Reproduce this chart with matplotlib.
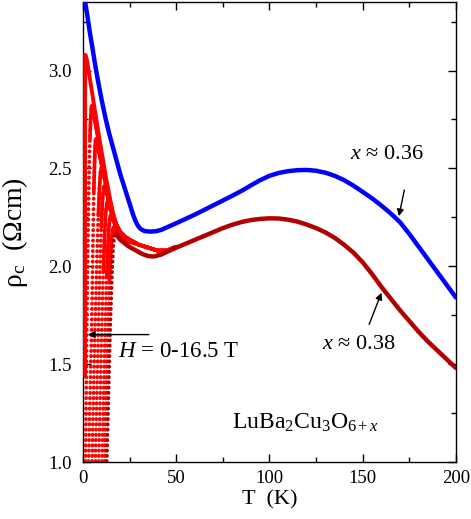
import numpy as np
import matplotlib
matplotlib.use('Agg')
import matplotlib.pyplot as plt
from matplotlib.ticker import MultipleLocator

plt.rcParams['font.family'] = ['Liberation Serif', 'DejaVu Serif']
plt.rcParams['mathtext.fontset'] = 'custom'
plt.rcParams['mathtext.rm'] = 'Liberation Serif'
plt.rcParams['mathtext.it'] = 'Liberation Serif:italic'

# x ~ 0.36 (blue)
T_036 = [1.0, 2.5, 3.75, 5.0, 6.5, 8.0, 10.0, 12.0, 14.0, 16.0, 18.0, 20.0, 22.0, 24.0, 26.0, 27.0,
         28.0, 29.0, 30.0, 31.0, 33.0, 36.0, 39.0, 42.0, 46.0, 50.0, 55.0, 60.0, 65.0, 70.0, 75.0,
         80.0, 85.0, 90.0, 95.0, 100.0, 105.0, 110.0, 115.0, 120.0, 125.0, 130.0, 135.0, 140.0,
         145.0, 150.0, 155.0, 160.0, 165.0, 170.0, 175.0, 180.0, 185.0, 190.0, 195.0, 200.0]
rho_036 = [3.36, 3.27, 3.19, 3.12, 3.03, 2.95, 2.85, 2.76, 2.68, 2.61, 2.54, 2.47, 2.41, 2.35, 2.29, 2.26,
           2.235, 2.215, 2.20, 2.19, 2.18, 2.177, 2.179, 2.186, 2.203, 2.22, 2.242, 2.264, 2.288, 2.312, 2.336,
           2.36, 2.385, 2.413, 2.44, 2.462, 2.477, 2.486, 2.491, 2.492, 2.488, 2.478, 2.462, 2.44,
           2.412, 2.38, 2.347, 2.31, 2.27, 2.225, 2.165, 2.10, 2.035, 1.97, 1.905, 1.84]

# x ~ 0.38, H = 0 (dark red), normal part
T_038 = [17.3, 18.0, 19.0, 20.0, 22.0, 24.0, 26.0, 28.0, 30.0, 32.0, 35.0, 38.0, 42.0, 46.0, 50.0,
         55.0, 60.0, 65.0, 70.0, 75.0, 80.0, 85.0, 90.0, 95.0, 100.0, 105.0, 110.0, 115.0, 120.0,
         125.0, 130.0, 135.0, 140.0, 145.0, 150.0, 155.0, 160.0, 165.0, 170.0, 175.0, 180.0, 185.0,
         190.0, 195.0, 200.0]
rho_038 = [2.165, 2.16, 2.147, 2.135, 2.12, 2.105, 2.093, 2.083, 2.072, 2.062, 2.052, 2.05, 2.06, 2.078, 2.095,
           2.115, 2.135, 2.155, 2.175, 2.195, 2.212, 2.226, 2.236, 2.242, 2.245, 2.244, 2.238, 2.228, 2.213,
           2.195, 2.173, 2.145, 2.11, 2.07, 2.02, 1.96, 1.895, 1.835, 1.775, 1.72, 1.665, 1.615,
           1.57, 1.525, 1.48]
# H = 0 superconducting drop
T_038_drop = [12.6, 13.6, 14.5, 15.5, 16.2, 16.8, 17.3]
rho_038_drop = [0.95, 1.32, 1.66, 1.95, 2.10, 2.15, 2.165]

# normal state of the highest field curve (outer edge of the red bundle)
T_env = [2.0, 3.0, 4.0, 5.0, 6.0, 7.0, 8.0, 9.0, 10.0, 11.0, 12.0, 13.0, 14.0, 15.0, 16.0, 17.0, 18.0,
         20.0, 22.0, 25.0, 30.0, 35.0, 40.0, 45.0, 50.0]
rho_env = [3.06, 3.0, 2.94, 2.88, 2.82, 2.76, 2.70, 2.64, 2.585, 2.53, 2.47, 2.42, 2.37, 2.32, 2.275, 2.24, 2.21,
           2.175, 2.155, 2.135, 2.11, 2.095, 2.08, 2.08, 2.10]

# in-field curves, H = 16.5 T ... low field (below ~17 K, then they join the outer curve)
T_field = [
    [1.1, 1.1, 1.15, 1.2, 1.5],
    [1.3, 1.6, 2.0, 2.6, 3.2, 3.7, 4.2, 4.6, 5.2, 6.0, 7.0, 8.0, 9.0, 10.0, 11.0, 12.0, 13.0, 14.0, 15.0],
    [3.0, 3.5, 4.6, 5.3, 5.8, 6.2, 6.5, 6.8, 7.4, 8.0, 9.0, 10.0, 11.0, 12.0, 13.0, 14.0, 15.0, 16.0],
    [4.8, 5.4, 6.4, 7.4, 8.2, 8.9, 9.4, 10.0, 10.6, 11.2, 12.0, 13.0, 14.0, 15.0, 16.0],
    [6.5, 7.2, 8.2, 9.1, 9.8, 10.4, 10.9, 11.3, 11.9, 12.5, 13.2, 14.0, 15.0, 16.0, 17.0],
    [8.3, 9.0, 10.0, 10.9, 11.6, 12.1, 12.6, 13.0, 13.6, 14.2, 15.0, 16.0, 17.0, 18.0],
    [10.1, 10.8, 11.8, 12.7, 13.4, 13.9, 14.3, 14.7, 15.3, 15.9, 16.6, 17.5, 18.5, 20.0],
    [11.4, 12.1, 13.2, 14.2, 14.9, 15.4, 15.9, 16.3, 16.9, 17.5, 18.5, 20.0, 22.0, 25.0],
]
rho_field = [
    [1.44, 2.3, 2.95, 3.08, 3.075],
    [0.95, 1.25, 1.66, 2.1, 2.45, 2.65, 2.77, 2.82, 2.805, 2.765, 2.71, 2.655, 2.60, 2.55, 2.50, 2.447, 2.40,
     2.355, 2.312],
    [0.95, 1.25, 1.66, 2.1, 2.38, 2.53, 2.61, 2.65, 2.635, 2.605, 2.56, 2.515, 2.47, 2.425, 2.383, 2.34, 2.30,
     2.262],
    [0.95, 1.25, 1.66, 2.02, 2.26, 2.41, 2.48, 2.51, 2.495, 2.47, 2.435, 2.39, 2.347, 2.305, 2.266],
    [0.95, 1.25, 1.66, 2.0, 2.2, 2.33, 2.385, 2.41, 2.398, 2.38, 2.352, 2.322, 2.288, 2.255, 2.227],
    [0.95, 1.25, 1.66, 1.98, 2.16, 2.26, 2.31, 2.33, 2.32, 2.303, 2.278, 2.25, 2.222, 2.198],
    [0.95, 1.25, 1.66, 1.95, 2.11, 2.2, 2.24, 2.26, 2.252, 2.24, 2.225, 2.205, 2.187, 2.168],
    [0.95, 1.25, 1.66, 1.93, 2.07, 2.14, 2.18, 2.20, 2.195, 2.186, 2.172, 2.153, 2.138, 2.123],
]

red = '#ff0000'
darkred = '#b00000'
blue = '#0000ff'
dots = (0, (0.1, 1.3))

fig = plt.figure(figsize=(4.71, 5.19), dpi=100)
ax = fig.add_axes([0.1762, 0.1098, 0.7919, 0.8863])

T_env_a = np.array(T_env)
rho_env_a = np.array(rho_env)
for i in range(len(T_field)):
    t = np.array(T_field[i])
    r = np.array(rho_field[i])
    keep = T_env_a > t[-1]
    tt = np.concatenate([t, T_env_a[keep]])
    rr = np.concatenate([r, rho_env_a[keep]])
    if i == 0:
        ax.plot(tt, rr, color=red, lw=2.8, solid_capstyle='round', solid_joinstyle='round', zorder=3)
    else:
        ipk = int(np.argmax(r))
        solid = (rr >= r.max() - 0.35) | (np.arange(len(rr)) >= ipk)
        ax.plot(t, r, color=red, lw=2.7, ls=dots, dash_capstyle='round', zorder=3)
        ax.plot(tt[solid], rr[solid], color=red, lw=2.6, solid_capstyle='round',
                solid_joinstyle='round', zorder=3)

ax.plot(T_038_drop, rho_038_drop, color=darkred, lw=2.7, ls=dots, dash_capstyle='round', zorder=4)
ax.plot(T_038, rho_038, color=darkred, lw=3.2, solid_capstyle='round', solid_joinstyle='round', zorder=4)
ax.plot(T_036, rho_036, color=blue, lw=3.2, solid_capstyle='round', solid_joinstyle='round', zorder=4)

ax.set_xlim(0, 200)
ax.set_ylim(1.0, 3.35)
ax.xaxis.set_major_locator(MultipleLocator(50))
ax.xaxis.set_minor_locator(MultipleLocator(25))
ax.yaxis.set_major_locator(MultipleLocator(0.5))
ax.yaxis.set_minor_locator(MultipleLocator(0.25))
ax.tick_params(which='both', direction='in', top=True, right=True, labelsize=13.5)
ax.tick_params(which='major', length=6, width=1)
ax.tick_params(which='minor', length=3.5, width=1)
ax.xaxis.set_tick_params(pad=6)
ax.yaxis.set_tick_params(pad=8)
for s in ax.spines.values():
    s.set_linewidth(1.0)

ax.set_xlabel('T  (K)', fontsize=16, labelpad=2)
ax.set_ylabel('ρ$_\\mathregular{c}$  (Ωcm)', fontsize=20)
ax.yaxis.set_label_coords(-0.142, 0.5)

ax.text(143, 2.57, r'$x$ ≈ 0.36', fontsize=16, ha='left', va='center')
ax.annotate('', xy=(169.1, 2.242), xytext=(172.6, 2.403),
            arrowprops=dict(arrowstyle='-|>', color='black', lw=1.0, mutation_scale=10))
ax.text(128.0, 1.60, r'$x$ ≈ 0.38', fontsize=16, ha='left', va='center')
ax.annotate('', xy=(160.6, 1.878), xytext=(152.9, 1.69),
            arrowprops=dict(arrowstyle='-|>', color='black', lw=1.0, mutation_scale=10))
ax.annotate('', xy=(1.1, 1.651), xytext=(36.8, 1.651),
            arrowprops=dict(arrowstyle='-|>', color='black', lw=1.0, mutation_scale=10), zorder=6)
ax.text(19.0, 1.566, r'$H$ = 0-16.5 T', fontsize=16.5, ha='left', va='center')
ax.text(80.0, 1.2, r'LuBa$_2$Cu$_3$O$_{6+x}$', fontsize=17, ha='left', va='center')

fig.savefig('out.png', dpi=100)
